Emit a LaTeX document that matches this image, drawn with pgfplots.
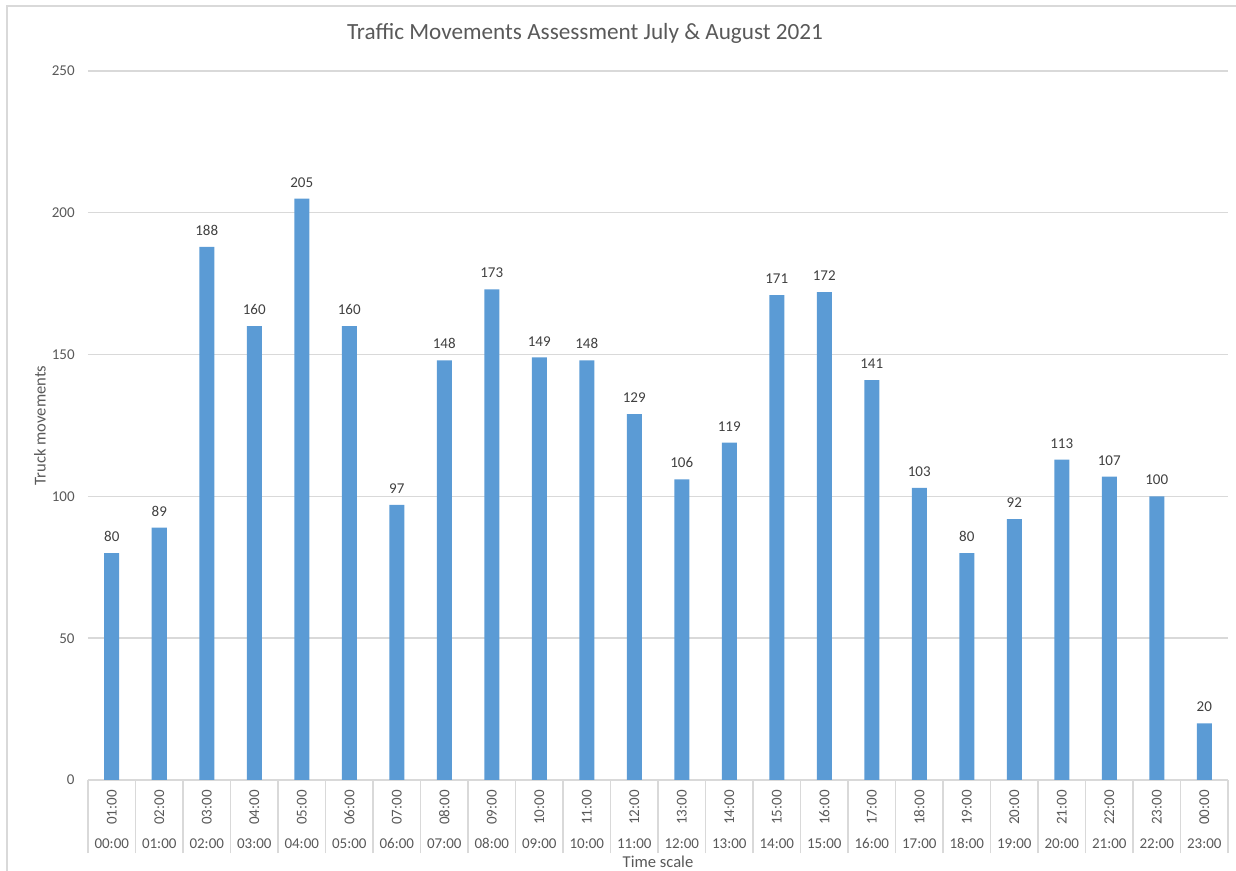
\documentclass[border=0pt]{standalone}
\usepackage{fontspec}
\setmainfont{Carlito}
\usepackage{graphicx}
\usepackage{pgfplots}
\pgfplotsset{compat=1.18}
\definecolor{barblue}{HTML}{5B9BD5}
\definecolor{txt}{HTML}{595959}
\definecolor{lbl}{HTML}{404040}
\definecolor{gridc}{HTML}{D9D9D9}
\begin{document}
\begin{tikzpicture}
\useasboundingbox (0,0) rectangle (618pt,435.5pt);
\draw[gridc, line width=0.7pt] (3.5pt,0) -- (3.5pt,432.5pt) -- (618pt,432.5pt);
\node[txt, font=\fontsize{11.6}{14}\selectfont] at (292.5pt,419pt) {Traffic Movements Assessment July \& August 2021};
\begin{axis}[
  at={(44pt,45.5pt)}, anchor=south west,
  scale only axis, width=570pt, height=354.5pt,
  xmin=0.5, xmax=24.5, ymin=0, ymax=250,
  ytick={0,50,...,250},
  /pgf/number format/assume math mode=true,
  ymajorgrids, grid style={gridc, line width=0.7pt},
  axis line style={draw=none},
  tick pos=left,
  tick align=outside,
  major tick length=0pt,
  minor tick length=36.5pt,
  minor xtick={0.5,1.5,...,24.5},
  minor x tick style={gridc, line width=0.7pt},
  xtick={1,...,24},
  xticklabels={\rotatebox{90}{01:00},\rotatebox{90}{02:00},\rotatebox{90}{03:00},\rotatebox{90}{04:00},\rotatebox{90}{05:00},\rotatebox{90}{06:00},\rotatebox{90}{07:00},\rotatebox{90}{08:00},\rotatebox{90}{09:00},\rotatebox{90}{10:00},\rotatebox{90}{11:00},\rotatebox{90}{12:00},\rotatebox{90}{13:00},\rotatebox{90}{14:00},\rotatebox{90}{15:00},\rotatebox{90}{16:00},\rotatebox{90}{17:00},\rotatebox{90}{18:00},\rotatebox{90}{19:00},\rotatebox{90}{20:00},\rotatebox{90}{21:00},\rotatebox{90}{22:00},\rotatebox{90}{23:00},\rotatebox{90}{00:00}},
  xticklabel style={anchor=north, inner sep=0pt, yshift=-5pt},
  extra x ticks={1,...,24},
  extra x tick labels={00:00,01:00,02:00,03:00,04:00,05:00,06:00,07:00,08:00,09:00,10:00,11:00,12:00,13:00,14:00,15:00,16:00,17:00,18:00,19:00,20:00,21:00,22:00,23:00},
  extra x tick style={major tick length=0pt, xticklabel style={yshift=-24pt}},
  yticklabel style={inner sep=0pt, xshift=-6.5pt},
  tick label style={font=\fontsize{7.5}{9}\selectfont, text=txt},
  xlabel={Time scale},
  ylabel={Truck movements},
  label style={font=\fontsize{8.3}{10}\selectfont, text=txt},
  xlabel style={at={(axis description cs:0.5,-0.1157)}, anchor=center},
  ylabel style={at={(axis description cs:-0.0421,0.5)}, anchor=center, rotate=0},
]
\addplot[ybar, bar width=7.5pt, fill=barblue, draw=none,
  nodes near coords,
  nodes near coords style={font=\fontsize{7.5}{9}\selectfont, text=lbl, anchor=south, inner sep=0pt, yshift=5.5pt}]
  coordinates {
  (1,80) (2,89) (3,188) (4,160) (5,205) (6,160) (7,97) (8,148)
  (9,173) (10,149) (11,148) (12,129) (13,106) (14,119) (15,171) (16,172)
  (17,141) (18,103) (19,80) (20,92) (21,113) (22,107) (23,100) (24,20)};
\end{axis}
\end{tikzpicture}
\end{document}
